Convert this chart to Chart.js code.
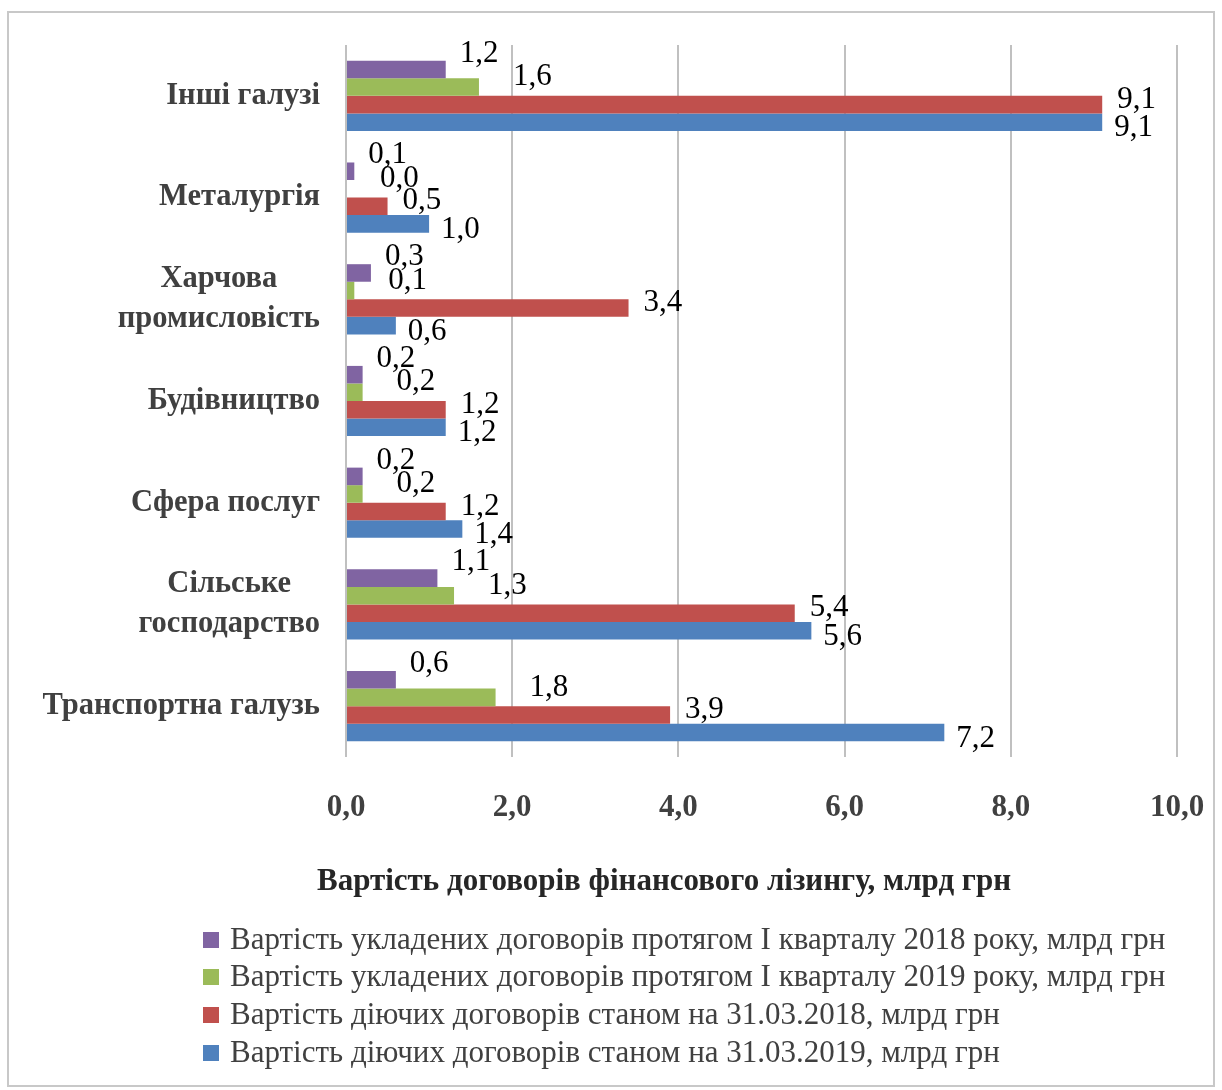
<!DOCTYPE html>
<html>
<head>
<meta charset="utf-8">
<script src="https://cdn.jsdelivr.net/npm/chart.js@4.4.1/dist/chart.umd.min.js"></script>
<style>
  html, body { margin: 0; padding: 0; background: #fff; }
  #wrap { width: 1222px; height: 1090px; position: relative; }
</style>
</head>
<body>
<div id="wrap"><canvas id="grafico"></canvas></div>
<script>
// ---- dados ----
const categorias = [
    'Інші галузі',
    'Металургія',
    ['Харчова', 'промисловість'],
    'Будівництво',
    'Сфера послуг',
    ['Сільське', 'господарство'],
    'Транспортна галузь'
];
const nomesSeries = [
    'Вартість укладених договорів протягом І кварталу 2018 року, млрд грн',
    'Вартість укладених договорів протягом І кварталу 2019 року, млрд грн',
    'Вартість діючих договорів станом на 31.03.2018, млрд грн',
    'Вартість діючих договорів станом на 31.03.2019, млрд грн'
];
const uklad2018 = [1.2, 0.1, 0.3, 0.2, 0.2, 1.1, 0.6];
const uklad2019 = [1.6, 0.0, 0.1, 0.2, 0.2, 1.3, 1.8];
const diyuchi2018 = [9.1, 0.5, 3.4, 1.2, 1.2, 5.4, 3.9];
const diyuchi2019 = [9.1, 1.0, 0.6, 1.2, 1.4, 5.6, 7.2];
const ticksX = [0, 2, 4, 6, 8, 10];
const tituloX = 'Вартість договорів фінансового лізингу, млрд грн';

const cores = ['#8064a2', '#9bbb59', '#c0504d', '#4f81bd'];
const FONTE = '"Liberation Serif", "Times New Roman", serif';

const fmt = v => v.toFixed(1).replace('.', ',');

// deslocamento dos rótulos de valor (imitando o Excel)
const desloc = [[14, -16], [34, -10], [15, -5], [12, 6]];

const pluginExtras = {
    id: 'extras',
    beforeDraw(chart) {
        const ctx = chart.ctx;
        ctx.save();
        ctx.fillStyle = '#fff';
        ctx.fillRect(0, 0, chart.width, chart.height);
        ctx.strokeStyle = '#c8c8c8';
        ctx.lineWidth = 2;
        ctx.strokeRect(8, 12, 1206, 1074);
        ctx.restore();
    },
    afterDraw(chart) {
        const ctx = chart.ctx;
        const yS = chart.scales.y;
        ctx.save();

        // rótulos das categorias (bloco alinhado à direita, linhas centradas)
        ctx.font = 'bold 30.5px ' + FONTE;
        ctx.fillStyle = '#404040';
        ctx.textBaseline = 'middle';
        ctx.textAlign = 'center';
        categorias.forEach((c, i) => {
            const linhas = Array.isArray(c) ? c : [c];
            const larg = Math.max(...linhas.map(l => ctx.measureText(l).width));
            const cx = 320 - larg / 2;
            const cy = yS.getPixelForTick(i);
            const lh = 40;
            linhas.forEach((l, k) => {
                ctx.fillText(l, cx, cy + (k - (linhas.length - 1) / 2) * lh);
            });
        });

        // rótulos de valor
        ctx.font = '31px ' + FONTE;
        ctx.fillStyle = '#000';
        ctx.textAlign = 'left';
        chart.data.datasets.forEach((ds, di) => {
            const meta = chart.getDatasetMeta(di);
            meta.data.forEach((el, i) => {
                ctx.fillText(fmt(ds.data[i]), el.x + desloc[di][0], el.y + desloc[di][1]);
            });
        });

        // título do eixo X
        ctx.font = 'bold 31px ' + FONTE;
        ctx.fillStyle = '#262626';
        ctx.textAlign = 'center';
        ctx.fillText(tituloX, 664, 882);

        // legenda
        ctx.font = '31px ' + FONTE;
        ctx.textAlign = 'left';
        const ys = [940, 977, 1015, 1053];
        chart.data.datasets.forEach((ds, di) => {
            ctx.fillStyle = ds.backgroundColor;
            ctx.fillRect(203, ys[di] - 8, 16, 16);
            ctx.fillStyle = '#404040';
            ctx.fillText(ds.label, 230, ys[di] + 1);
        });
        ctx.restore();
    }
};

const ctx = document.getElementById('grafico').getContext('2d');
new Chart(ctx, {
    type: 'bar',
    data: {
        labels: categorias,
        datasets: [uklad2018, uklad2019, diyuchi2018, diyuchi2019].map((d, i) => ({
            label: nomesSeries[i],
            data: d,
            backgroundColor: cores[i],
            borderWidth: 0,
            categoryPercentage: 0.69,
            barPercentage: 1.0
        }))
    },
    options: {
        indexAxis: 'y',
        responsive: true,
        maintainAspectRatio: false,
        animation: false,
        layout: { padding: { left: 0, top: 45, right: 45, bottom: 0 } },
        plugins: {
            legend: { display: false },
            tooltip: { enabled: false }
        },
        scales: {
            x: {
                min: 0,
                max: 10,
                afterBuildTicks: s => { s.ticks = ticksX.map(v => ({ value: v })); },
                afterFit: s => { s.height = 1090 - 757; s.paddingLeft = 0; s.paddingRight = 0; },
                border: { display: false },
                grid: { color: '#c0c0c0', lineWidth: 2, drawTicks: false },
                ticks: {
                    padding: 32,
                    color: '#404040',
                    font: { family: FONTE, size: 31, weight: 'bold' },
                    callback: v => fmt(v)
                }
            },
            y: {
                afterFit: s => { s.width = 346; },
                border: { display: false },
                grid: { display: false },
                ticks: { color: 'rgba(0,0,0,0)', font: { size: 12 } }
            }
        }
    },
    plugins: [pluginExtras]
});
</script>
</body>
</html>
